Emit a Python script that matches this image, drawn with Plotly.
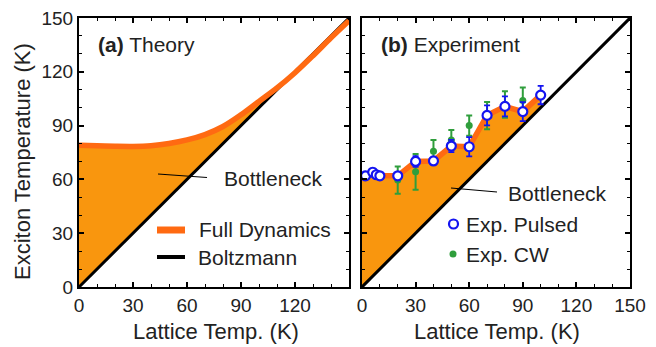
import plotly.graph_objects as go

# ---------------- data ----------------
# (a) Theory: full-dynamics exciton temperature vs lattice temperature
theory_T = [0, 10, 20, 30, 40, 50, 60, 70, 80, 90, 100, 110, 120, 130, 140, 150]
theory_Tex = [79, 78.8, 78.5, 78.4, 78.8, 80, 82, 85, 89.5, 96, 103.5, 111, 119.5, 129, 139, 148.5]

# Boltzmann limit (T_exciton = T_lattice)
boltz_T = [0, 150]
boltz_Tex = [0, 150]

# (b) Experiment
pulsed_T = [2, 6, 8, 10, 20, 30, 40, 50, 60, 70, 80, 90, 100]
pulsed_Tex = [62, 64, 62.6, 62, 62, 70, 70.3, 78.6, 78.2, 95.7, 100.7, 97.8, 107]
pulsed_err = [1, 2, 1, 1, 1.5, 3, 2, 3.4, 5.4, 5.6, 5.6, 5.3, 5.1]

cw_T = [20, 30, 40, 50, 60, 70, 80, 90]
cw_Tex = [59.6, 64.2, 75.7, 82, 90, 95.5, 101.8, 104]
cw_err = [7.6, 10, 6.3, 5.5, 5.6, 7.6, 7.4, 7.2]

x_ticks_a = [0, 30, 60, 90, 120]
x_ticks_b = [0, 30, 60, 90, 120, 150]
y_ticks = [0, 30, 60, 90, 120, 150]

# ---------------- style ----------------
W, H = 656, 347
FILL = "#F9960E"
LINE = "#FF6A12"
BLUE = "#1414F0"
GREEN = "#2F9E3C"
TXT = "#222222"
FONT = "Liberation Sans, Arial, sans-serif"


def px(x):
    return x / W


def py(y):
    return 1 - y / H


fig = go.Figure()

# ---- panel (a) ----
fig.add_trace(go.Scatter(
    x=theory_T + theory_T[::-1],
    y=theory_Tex + theory_T[::-1],
    fill="toself", fillcolor=FILL, line=dict(width=0), mode="lines",
    hoverinfo="skip", showlegend=False, xaxis="x", yaxis="y"))
fig.add_trace(go.Scatter(x=boltz_T, y=boltz_Tex, mode="lines",
                         line=dict(color="black", width=3), showlegend=False,
                         xaxis="x", yaxis="y"))
fig.add_trace(go.Scatter(x=theory_T, y=theory_Tex, mode="lines",
                         line=dict(color=LINE, width=5.5, shape="spline"),
                         showlegend=False, xaxis="x", yaxis="y"))

# ---- panel (b) ----
band_T = [0] + pulsed_T
band_Tex = [pulsed_Tex[0]] + pulsed_Tex
fig.add_trace(go.Scatter(
    x=band_T + band_T[::-1],
    y=band_Tex + band_T[::-1],
    fill="toself", fillcolor=FILL, line=dict(width=0), mode="lines",
    hoverinfo="skip", showlegend=False, xaxis="x2", yaxis="y2"))
fig.add_trace(go.Scatter(x=boltz_T, y=boltz_Tex, mode="lines",
                         line=dict(color="black", width=3), showlegend=False,
                         xaxis="x2", yaxis="y2"))
fig.add_trace(go.Scatter(x=band_T, y=band_Tex, mode="lines",
                         line=dict(color=LINE, width=5.5),
                         showlegend=False, xaxis="x2", yaxis="y2"))
fig.add_trace(go.Scatter(
    x=cw_T, y=cw_Tex, mode="markers",
    marker=dict(color=GREEN, size=7),
    error_y=dict(type="data", array=cw_err, color=GREEN, thickness=2, width=3),
    showlegend=False, xaxis="x2", yaxis="y2"))
fig.add_trace(go.Scatter(
    x=pulsed_T, y=pulsed_Tex, mode="markers",
    marker=dict(color="white", size=9, line=dict(color=BLUE, width=2.2)),
    error_y=dict(type="data", array=pulsed_err, color=BLUE, thickness=1.8, width=3),
    showlegend=False, xaxis="x2", yaxis="y2"))

# ---------------- axes ----------------
ydom = [py(287), py(18)]
common = dict(
    range=[0, 150], showgrid=False, zeroline=False, automargin=False,
    showline=True, linewidth=2, linecolor="black", mirror="ticks",
    ticks="inside", ticklen=5, tickwidth=1.5, tickcolor="black",
    tickfont=dict(family=FONT, size=19, color=TXT),
    minor=dict(tick0=0, dtick=10, ticks="inside", ticklen=3, tickwidth=1.2,
               tickcolor="black", showgrid=False),
)

fig.update_layout(
    width=W, height=H, autosize=False,
    margin=dict(l=0, r=0, t=0, b=0),
    paper_bgcolor="white", plot_bgcolor="white",
    font=dict(family=FONT, color=TXT),
    xaxis=dict(domain=[px(79), px(349)], anchor="y", tickmode="array",
               tickvals=x_ticks_a, **common),
    yaxis=dict(domain=ydom, anchor="x", tickmode="array",
               tickvals=y_ticks, **common),
    xaxis2=dict(domain=[px(362), px(630)], anchor="y2", tickmode="array",
                tickvals=x_ticks_b, **common),
    yaxis2=dict(domain=ydom, anchor="x2", tickmode="array",
                tickvals=y_ticks, showticklabels=False, **common),
)

# ---------------- annotations ----------------
ann = []


def text(x, y, s, size=21, xanchor="left", angle=0):
    ann.append(dict(x=px(x), y=py(y), xref="paper", yref="paper", text=s,
                    showarrow=False, xanchor=xanchor, yanchor="middle",
                    textangle=angle,
                    font=dict(family=FONT, size=size, color=TXT)))


text(22, 162, "Exciton Temperature (K)", size=22, xanchor="center", angle=-90)
text(216, 331, "Lattice Temp. (K)", size=22, xanchor="center")
text(497, 331, "Lattice Temp. (K)", size=22, xanchor="center")
text(96, 44, "<b>(a)</b> Theory")
text(379, 44, "<b>(b)</b> Experiment")
text(222, 178, "Bottleneck")
text(506, 193, "Bottleneck")
text(197, 229, "Full Dynamics")
text(196, 257, "Boltzmann")
text(464, 224, "Exp. Pulsed")
text(464, 254, "Exp. CW")
fig.update_layout(annotations=ann)

# ---------------- decorative shapes (legend samples, pointer lines) ----------------
shapes = []


def seg(x0, y0, x1, y1, color, width):
    shapes.append(dict(type="line", xref="paper", yref="paper",
                       x0=px(x0), y0=py(y0), x1=px(x1), y1=py(y1),
                       line=dict(color=color, width=width)))


seg(158, 174, 207, 177.5, "black", 1.2)
seg(451, 188, 497, 192, "black", 1.2)
seg(157, 230, 185, 230, LINE, 7)
seg(157, 257, 185, 257, "black", 4)
shapes.append(dict(type="circle", xref="paper", yref="paper",
                   x0=px(449), x1=px(458), y0=py(219.5), y1=py(228.5),
                   line=dict(color=BLUE, width=2.2), fillcolor="white"))
shapes.append(dict(type="circle", xref="paper", yref="paper",
                   x0=px(449.5), x1=px(456.5), y0=py(250.5), y1=py(257.5),
                   line=dict(color=GREEN, width=0), fillcolor=GREEN))
fig.update_layout(shapes=shapes)

fig.write_html(
    "out.html",
    config={"displayModeBar": False},
    post_script="document.body.style.margin='0';document.body.style.overflow='hidden';",
)
